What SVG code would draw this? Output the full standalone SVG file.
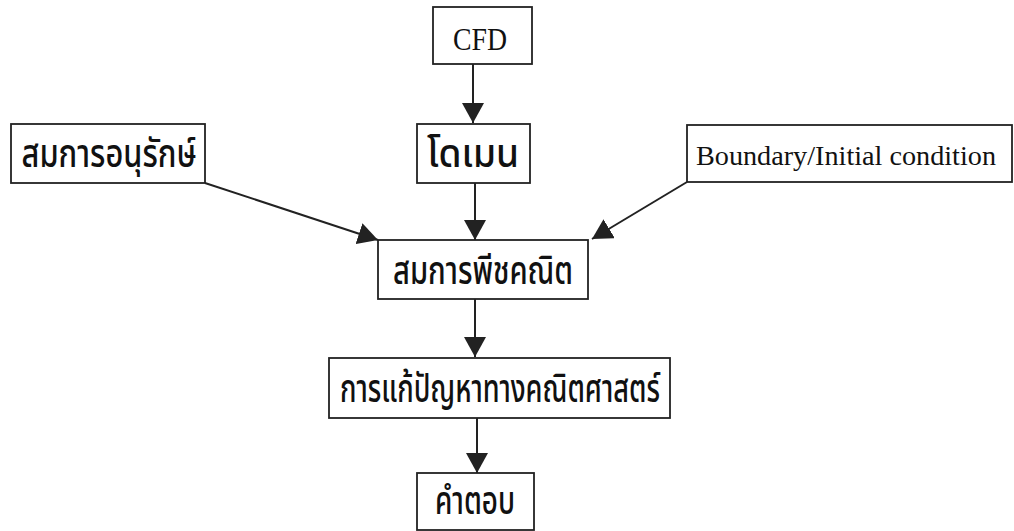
<svg xmlns="http://www.w3.org/2000/svg" width="1014" height="531" viewBox="0 0 1014 531">
<defs>
<style>
.box{fill:#fff;stroke:#222;stroke-width:1.8}
.en{font-family:"Liberation Serif",serif;font-size:27px;fill:#111;text-anchor:middle}
.th{font-family:"Noto Sans Thai","Noto Sans","DejaVu Sans",sans-serif;font-size:40px;font-weight:500;fill:#111;text-anchor:middle}
</style>
<marker id="ah2" viewBox="0 0 20 22" refX="20" refY="11" markerWidth="20" markerHeight="22" markerUnits="userSpaceOnUse" orient="auto">
<path d="M0,0 L20,11 L0,22 z" fill="#222"/>
</marker>
</defs>
<rect width="1014" height="531" fill="#fff"/>
<g id="connectors" stroke="#222" stroke-width="2" fill="none">
<line x1="473" y1="64" x2="473" y2="123" marker-end="url(#ah2)"/>
<line x1="475" y1="183" x2="475" y2="240" marker-end="url(#ah2)"/>
<line x1="205" y1="183" x2="378" y2="240" marker-end="url(#ah2)"/>
<line x1="687" y1="182" x2="592" y2="239" marker-end="url(#ah2)"/>
<line x1="475" y1="299" x2="475" y2="357" marker-end="url(#ah2)"/>
<line x1="477" y1="418" x2="477" y2="473" marker-end="url(#ah2)"/>
</g>
<g id="n-cfd"><rect class="box" x="433" y="7" width="99" height="57"/><text class="en" x="480" y="50" style="font-size:31px" textLength="54" lengthAdjust="spacingAndGlyphs">CFD</text></g>
<g id="n-domain"><rect class="box" x="417" y="124" width="113" height="59"/><text class="th" x="473" y="167" textLength="92" lengthAdjust="spacingAndGlyphs">โดเมน</text></g>
<g id="n-conserv"><rect class="box" x="11" y="124" width="194" height="59"/><text class="th" x="109" y="167" textLength="175" lengthAdjust="spacingAndGlyphs">สมการอนุรักษ์</text></g>
<g id="n-boundary"><rect class="box" x="687" y="125" width="325" height="57"/><text class="en" x="846" y="165" textLength="300" lengthAdjust="spacingAndGlyphs">Boundary/Initial condition</text></g>
<g id="n-algebra"><rect class="box" x="378" y="240" width="210" height="59"/><text class="th" x="483" y="284" textLength="180" lengthAdjust="spacingAndGlyphs">สมการพีชคณิต</text></g>
<g id="n-solve"><rect class="box" x="329" y="358" width="341" height="60"/><text class="th" x="500" y="402" textLength="320" lengthAdjust="spacingAndGlyphs">การแก้ปัญหาทางคณิตศาสตร์</text></g>
<g id="n-answer"><rect class="box" x="417" y="473" width="117" height="57"/><text class="th" x="475" y="514" textLength="80" lengthAdjust="spacingAndGlyphs">คำตอบ</text></g>
</svg>
